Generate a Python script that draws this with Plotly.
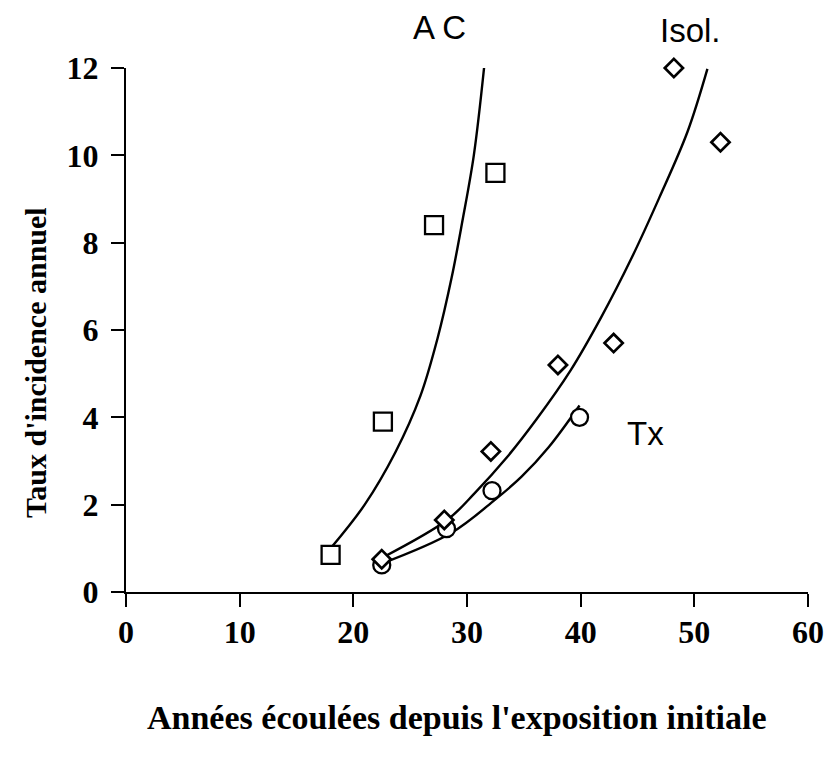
import plotly.graph_objects as go

# --- data ---
ac_x = [18.0, 22.6, 27.1, 32.5]
ac_y = [0.85, 3.9, 8.4, 9.6]
isol_x = [22.5, 28.0, 32.1, 38.0, 42.9, 48.2, 52.3]
isol_y = [0.75, 1.65, 3.22, 5.2, 5.7, 12.0, 10.3]
tx_x = [22.5, 28.2, 32.2, 39.9]
tx_y = [0.62, 1.45, 2.32, 4.0]

# fitted curves
ac_curve_x = [18.0, 21.0, 23.7, 25.9, 27.4, 28.65, 29.6, 30.6, 31.5]
ac_curve_y = [1.0, 2.0, 3.2, 4.49, 5.8, 7.2, 8.5, 10.0, 12.0]
isol_curve_x = [22.5, 28.3, 30.7, 33.4, 36.1, 39.1, 41.8, 44.5, 46.9, 49.4, 51.15]
isol_curve_y = [0.78, 1.66, 2.27, 3.05, 3.95, 5.07, 6.29, 7.66, 9.02, 10.54, 11.98]
tx_curve_x = [22.5, 28.6, 32.45, 34.8, 37.2, 39.9]
tx_curve_y = [0.65, 1.35, 2.11, 2.64, 3.32, 4.27]

x_ticks = [0, 10, 20, 30, 40, 50, 60]
y_ticks = [0, 2, 4, 6, 8, 10, 12]

labels = ["A C", "Isol.", "Tx"]
label_px = [0.460, 0.827, 0.762]
label_py = [1.078, 1.071, 0.302]

x_title = "Années écoulées depuis l'exposition initiale"
y_title = "Taux d'incidence annuel"

serif = "Liberation Serif"
sans = "Liberation Sans"

fig = go.Figure()
line_style = dict(color="black", width=2.4, shape="spline", smoothing=1.0)
for cx, cy in [(ac_curve_x, ac_curve_y), (isol_curve_x, isol_curve_y), (tx_curve_x, tx_curve_y)]:
    fig.add_trace(go.Scatter(x=cx, y=cy, mode="lines", line=line_style,
                             showlegend=False, hoverinfo="skip"))

fig.add_trace(go.Scatter(x=ac_x, y=ac_y, mode="markers", showlegend=False, cliponaxis=False,
                         marker=dict(symbol="square", size=18, color="white",
                                     line=dict(color="black", width=2.3))))
fig.add_trace(go.Scatter(x=tx_x, y=tx_y, mode="markers", showlegend=False, cliponaxis=False,
                         marker=dict(symbol="circle", size=17, color="white",
                                     line=dict(color="black", width=2.3))))
fig.add_trace(go.Scatter(x=isol_x, y=isol_y, mode="markers", showlegend=False, cliponaxis=False,
                         marker=dict(symbol="diamond", size=14, color="white",
                                     line=dict(color="black", width=2.7))))

for t, lx, ly in zip(labels, label_px, label_py):
    fig.add_annotation(x=lx, y=ly, xref="paper", yref="paper", text=t, showarrow=False,
                       xanchor="center", yanchor="middle",
                       font=dict(family=sans, size=33, color="black"))

fig.add_annotation(x=0.485, y=-0.240, xref="paper", yref="paper", text="<b>" + x_title + "</b>",
                   showarrow=False, xanchor="center", yanchor="middle",
                   font=dict(family=serif, size=34, color="black"))
fig.add_annotation(x=-0.132, y=0.439, xref="paper", yref="paper", text="<b>" + y_title + "</b>",
                   showarrow=False, textangle=-90, xanchor="center", yanchor="middle",
                   font=dict(family=serif, size=30, color="black"))

axis_common = dict(showgrid=False, zeroline=False, showline=True, linecolor="black", linewidth=2.4,
                   ticks="outside", ticklen=13, tickwidth=2.2, tickcolor="black", automargin=False,
                   tickfont=dict(family=serif, size=32, color="black"))
fig.update_xaxes(range=[0, 60], tickvals=x_ticks, ticktext=["<b>%d</b>" % v for v in x_ticks],
                 ticklabelstandoff=-3, **axis_common)
fig.update_yaxes(range=[0, 12], tickvals=y_ticks, ticktext=["<b>%d</b>" % v for v in y_ticks],
                 ticklabelstandoff=6, **axis_common)

fig.update_layout(width=825, height=761, margin=dict(l=126, r=17, t=68, b=169),
                  plot_bgcolor="white", paper_bgcolor="white")

fig.write_html("out.html", config={"displayModeBar": False},
               post_script="document.body.style.margin='0';document.body.style.overflow='hidden';")
